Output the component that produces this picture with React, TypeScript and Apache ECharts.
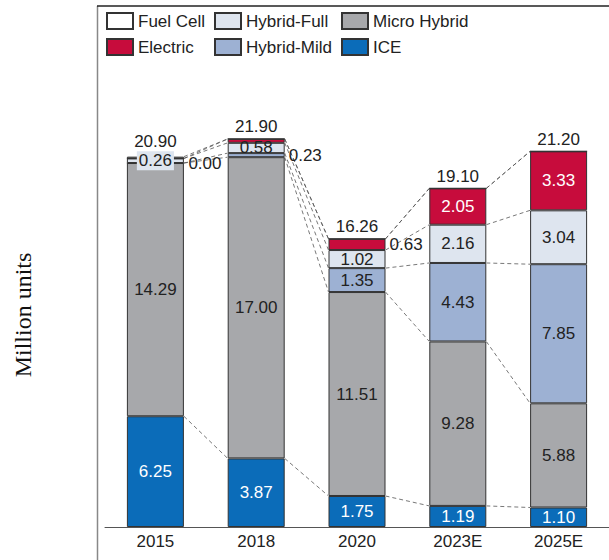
import React, { useEffect, useRef } from "react";
import * as echarts from "echarts";

const categories = ["2015", "2018", "2020", "2023E", "2025E"];
const ice = [6.25, 3.87, 1.75, 1.19, 1.1];
const microHybrid = [14.29, 17.0, 11.51, 9.28, 5.88];
const hybridMild = [0.0, 0.23, 1.35, 4.43, 7.85];
const hybridFull = [0.26, 0.58, 1.02, 2.16, 3.04];
const electric = [0.0, 0.22, 0.63, 2.05, 3.33];
const fuelCell = [0.1, 0.0, 0.0, 0.0, 0.0];
const totals = [20.9, 21.9, 16.26, 19.1, 21.2];

const FONT = '"Liberation Sans", Arial, sans-serif';
const BAR_W = 57;

type S = { name: string; values: number[]; color: string; text: string };
const stackSeries: S[] = [
  { name: "ICE", values: ice, color: "#0b6cb9", text: "#ffffff" },
  { name: "Micro Hybrid", values: microHybrid, color: "#a7a8ab", text: "#222222" },
  { name: "Hybrid-Mild", values: hybridMild, color: "#9db1d3", text: "#222222" },
  { name: "Hybrid-Full", values: hybridFull, color: "#dee5ef", text: "#222222" },
  { name: "Electric", values: electric, color: "#c70c3c", text: "#ffffff" },
  { name: "Fuel Cell", values: fuelCell, color: "#ffffff", text: "#222222" },
];

const rightLabels: Record<string, number[]> = {
  "Hybrid-Mild": [0, 1],
  Electric: [2],
};

export default function App() {
  const ref = useRef<HTMLDivElement>(null);
  useEffect(() => {
    if (!ref.current) return;
    const chart = echarts.init(ref.current, null, { renderer: "svg" });

    const series: any[] = stackSeries.map((s) => ({
      type: "bar",
      name: s.name,
      stack: "total",
      barWidth: BAR_W,
      itemStyle: { color: s.color, borderColor: "#333", borderWidth: 1 },
      data: s.values.map((v, i) => {
        let label: any = { show: false };
        if (s.name === "Fuel Cell") {
          label = {
            show: true,
            position: "top",
            distance: 3,
            offset: i === 0 ? [0, -4] : [0, 0],
            color: "#222",
            fontSize: 17,
            fontFamily: FONT,
            formatter: () => totals[i].toFixed(2),
          };
        } else if ((rightLabels[s.name] || []).includes(i)) {
          label = {
            show: true,
            position: "right",
            distance: 4,
            color: "#222",
            fontSize: 17,
            fontFamily: FONT,
            formatter: () => v.toFixed(2),
          };
        } else if (s.name === "Hybrid-Full" && i === 0) {
          label = {
            show: true,
            position: "inside",
            color: "#222",
            fontSize: 17,
            fontFamily: FONT,
            backgroundColor: s.color,
            padding: [1, 2],
            formatter: () => v.toFixed(2),
          };
        } else if (v >= 0.5) {
          label = {
            show: true,
            position: "inside",
            color: s.text,
            fontSize: 17,
            fontFamily: FONT,
            formatter: () => v.toFixed(2),
          };
        }
        return { value: v, label };
      }),
    }));

    // connector lines between cumulative boundaries
    const lineData: number[][] = [];
    for (let i = 0; i < categories.length - 1; i++) {
      let c1 = 0;
      let c2 = 0;
      for (let k = 0; k < stackSeries.length; k++) {
        c1 += stackSeries[k].values[i];
        c2 += stackSeries[k].values[i + 1];
        lineData.push([i, c1, c2]);
      }
    }
    series.push({
      type: "custom",
      silent: true,
      z: 1,
      encode: { x: 0, y: 1 },
      data: lineData,
      renderItem: (params: any, api: any) => {
        const i = api.value(0);
        const a = api.coord([i, api.value(1)]);
        const b = api.coord([i + 1, api.value(2)]);
        return {
          type: "line",
          shape: { x1: a[0] + BAR_W / 2, y1: a[1], x2: b[0] - BAR_W / 2, y2: b[1] },
          style: { stroke: "#555", lineWidth: 0.8, lineDash: [4, 3] },
        };
      },
    });

    const legendOrder = ["Fuel Cell", "Hybrid-Full", "Micro Hybrid", "Electric", "Hybrid-Mild", "ICE"];
    const colX = [106, 214, 341];
    const rowY = [12, 38];

    chart.setOption({
      animation: false,
      backgroundColor: "#ffffff",
      grid: { left: 105, right: -3, top: 84, bottom: 33 },
      legend: legendOrder.map((n, k) => ({
        data: [n],
        left: colX[k % 3],
        top: rowY[Math.floor(k / 3)],
        padding: 0,
        itemWidth: 26,
        itemHeight: 16,
        icon: "rect",
        textStyle: { fontSize: 17, color: "#222", fontFamily: FONT },
      })),
      xAxis: {
        type: "category",
        data: categories,
        axisLine: { lineStyle: { color: "#555", width: 1 } },
        axisTick: { show: false },
        axisLabel: { color: "#222", fontSize: 17, fontFamily: FONT, margin: 6 },
      },
      yAxis: { type: "value", min: 0, max: 25, show: false, splitLine: { show: false } },
      graphic: [
        {
          type: "line",
          shape: { x1: 97.5, y1: 6, x2: 97.5, y2: 560 },
          style: { stroke: "#888", lineWidth: 1.5 },
        },
        {
          type: "line",
          shape: { x1: 97, y1: 6, x2: 609, y2: 6 },
          style: { stroke: "#222", lineWidth: 1.5 },
        },
        {
          type: "text",
          x: 23,
          y: 315,
          rotation: Math.PI / 2,
          style: {
            text: "Million units",
            fontSize: 24,
            fontFamily: '"Liberation Serif", "Times New Roman", serif',
            fill: "#111",
            align: "center",
            verticalAlign: "middle",
          },
        },
      ],
      series,
    });
    return () => chart.dispose();
  }, []);
  return <div ref={ref} style={{ position: "absolute", left: 0, top: 0, width: 609, height: 560 }} />;
}
